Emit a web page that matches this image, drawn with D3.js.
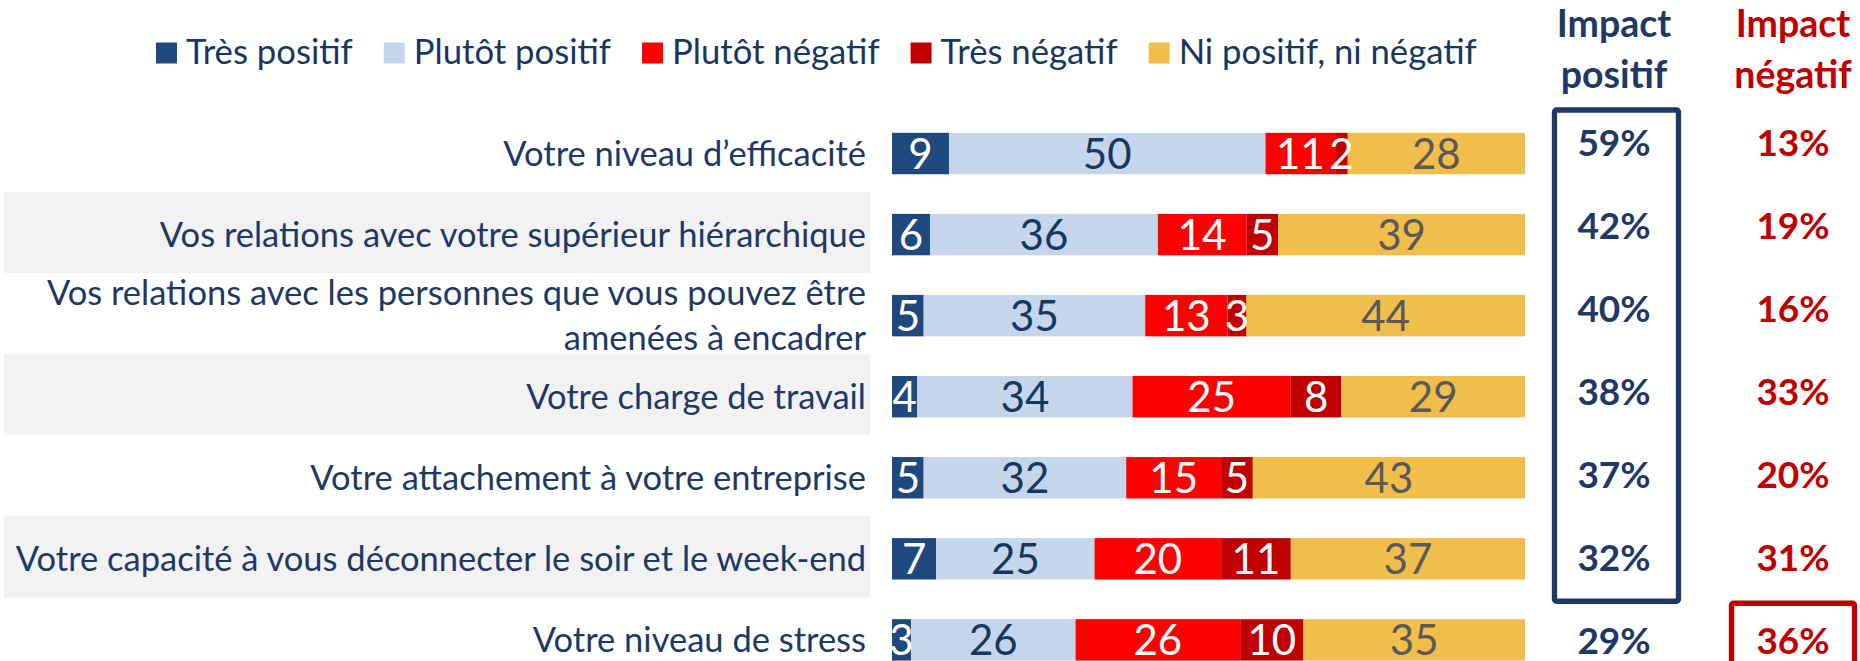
<!DOCTYPE html>
<html lang="fr">
<head>
    <meta charset="UTF-8">
    <title>Impact</title>
    <script src="https://d3js.org/d3.v7.min.js"></script>
    <style>
        body {
            margin: 0;
            background-color: #fff;
        }

        #canvas {
            display: block;
            font-family: Lato, "Open Sans", sans-serif;
        }
    </style>
</head>
<body>
<svg id="canvas" width="1860" height="661"></svg>
<script>

    // data
    const categories = [
        "Votre niveau d’efficacité",
        "Vos relations avec votre supérieur hiérarchique",
        "Vos relations avec les personnes que vous pouvez être\namenées à encadrer",
        "Votre charge de travail",
        "Votre attachement à votre entreprise",
        "Votre capacité à vous déconnecter le soir et le week-end",
        "Votre niveau de stress"
    ];
    const seriesNames = ["Très positif", "Plutôt positif", "Plutôt négatif", "Très négatif", "Ni positif, ni négatif"];
    const tresPositif = [9, 6, 5, 4, 5, 7, 3];
    const plutotPositif = [50, 36, 35, 34, 32, 25, 26];
    const plutotNegatif = [11, 14, 13, 25, 15, 20, 26];
    const tresNegatif = [2, 5, 3, 8, 5, 11, 10];
    const niNi = [28, 39, 44, 29, 43, 37, 35];
    const impactPositif = [59, 42, 40, 38, 37, 32, 29];
    const impactNegatif = [13, 19, 16, 33, 20, 31, 36];

    const colors = ["#1f497d", "#c5d6ec", "#ff0000", "#c00000", "#f2be4b"];
    const textColors = ["#ffffff", "#17375e", "#ffffff", "#ffffff", "#595959"];
    const navy = "#1f3864";
    const darkRed = "#c00000";

    let table = categories.map(function (c, i) {
        return {
            cat: c,
            [seriesNames[0]]: tresPositif[i],
            [seriesNames[1]]: plutotPositif[i],
            [seriesNames[2]]: plutotNegatif[i],
            [seriesNames[3]]: tresNegatif[i],
            [seriesNames[4]]: niNi[i]
        }
    })
    let stacked = d3.stack().keys(seriesNames)(table);

    let svg = d3.select('#canvas');

    let x = d3.scaleLinear().domain([0, 100]).range([892, 1525]);
    let y = d3.scaleBand().domain(categories)
        .range([113, 680.4])
        .paddingInner(0.489)
        .paddingOuter(0.2445);
    // the percent columns sit on a slightly different pitch
    let yPct = d3.scaleBand().domain(categories).range([101.5, 682.2]);
    let colX = {pos: 1614, neg: 1793};

    // grey bands behind every second row
    svg.append('g').selectAll('rect')
        .data(categories.filter((d, i) => i % 2 === 1))
        .enter().append('rect')
        .attr('x', 4)
        .attr('width', 866)
        .attr('y', d => y(d) + y.bandwidth() / 2 - y.step() / 2 - 2)
        .attr('height', y.step())
        .attr('fill', '#f2f2f2');

    // row labels
    let labels = svg.append('g').attr('fill', navy)
        .style('font-size', '34.5px')
        .attr('text-anchor', 'end');
    categories.forEach(function (c) {
        let lines = c.split("\n");
        let cy = y(c) + y.bandwidth() / 2;
        let t = labels.append('text')
            .attr('x', 866)
            .attr('y', cy + 12 - (lines.length - 1) * 22.5);
        lines.forEach(function (l, j) {
            t.append('tspan').attr('x', 866).attr('dy', j === 0 ? 0 : 45).text(l);
        })
    })

    // stacked bars
    let layers = svg.append('g').selectAll('g')
        .data(stacked)
        .enter().append('g')
        .attr('fill', (d, i) => colors[i]);

    layers.selectAll('rect')
        .data(d => d)
        .enter().append('rect')
        .attr('x', d => x(d[0]))
        .attr('width', d => x(d[1]) - x(d[0]))
        .attr('y', d => y(d.data.cat))
        .attr('height', y.bandwidth());

    // values in the bars
    let valueLayers = svg.append('g')
        .style('font-size', '42px')
        .attr('text-anchor', 'middle')
        .selectAll('g')
        .data(stacked)
        .enter().append('g')
        .attr('fill', (d, i) => textColors[i]);

    valueLayers.selectAll('text')
        .data(d => d)
        .enter().append('text')
        .attr('x', d => (x(d[0]) + x(d[1])) / 2)
        .attr('y', d => y(d.data.cat) + y.bandwidth() / 2 + 15)
        .text(d => d[1] - d[0]);

    // legend
    let legend = svg.append('g').style('font-size', '34.7px');
    let lx = 156;
    seriesNames.forEach(function (s, i) {
        legend.append('rect')
            .attr('x', lx).attr('y', 42.5)
            .attr('width', 21).attr('height', 21)
            .attr('fill', colors[i]);
        let t = legend.append('text')
            .attr('x', lx + 30).attr('y', 64)
            .attr('fill', '#17375e')
            .text(s);
        lx += 30 + t.node().getComputedTextLength() + 31;
    })

    // column headers
    let headers = svg.append('g')
        .style('font-size', '37.5px')
        .style('font-weight', 'bold')
        .attr('text-anchor', 'middle');
    [["Impact", "positif", colX.pos, navy], ["Impact", "négatif", colX.neg, darkRed]].forEach(function (h) {
        headers.append('text').attr('x', h[2]).attr('y', 37).attr('fill', h[3]).text(h[0]);
        headers.append('text').attr('x', h[2]).attr('y', 88).attr('fill', h[3]).text(h[1]);
    })

    // percent columns
    let pct = svg.append('g')
        .style('font-size', '37px')
        .style('font-weight', 'bold')
        .attr('text-anchor', 'middle');
    pct.selectAll('.pos')
        .data(impactPositif)
        .enter().append('text')
        .attr('class', 'pos')
        .attr('x', colX.pos)
        .attr('y', (d, i) => yPct(categories[i]) + yPct.bandwidth() / 2 + 13.5)
        .attr('fill', navy)
        .text(d => d + '%');
    pct.selectAll('.neg')
        .data(impactNegatif)
        .enter().append('text')
        .attr('class', 'neg')
        .attr('x', colX.neg)
        .attr('y', (d, i) => yPct(categories[i]) + yPct.bandwidth() / 2 + 13.5)
        .attr('fill', darkRed)
        .text(d => d + '%');

    // highlight boxes
    let top0 = yPct(categories[0]);
    let bottom5 = yPct(categories[5]) + yPct.bandwidth();
    svg.append('rect')
        .attr('x', colX.pos - 59.5).attr('y', top0 + 8.5)
        .attr('width', 124).attr('height', bottom5 - top0 - 6.5)
        .attr('rx', 2)
        .attr('fill', 'none')
        .attr('stroke', navy)
        .attr('stroke-width', 5.3);
    svg.append('rect')
        .attr('x', colX.neg - 61.5).attr('y', yPct(categories[6]) + 4)
        .attr('width', 123).attr('height', 100)
        .attr('rx', 2)
        .attr('fill', 'none')
        .attr('stroke', darkRed)
        .attr('stroke-width', 5.3);

</script>
</body>
</html>
